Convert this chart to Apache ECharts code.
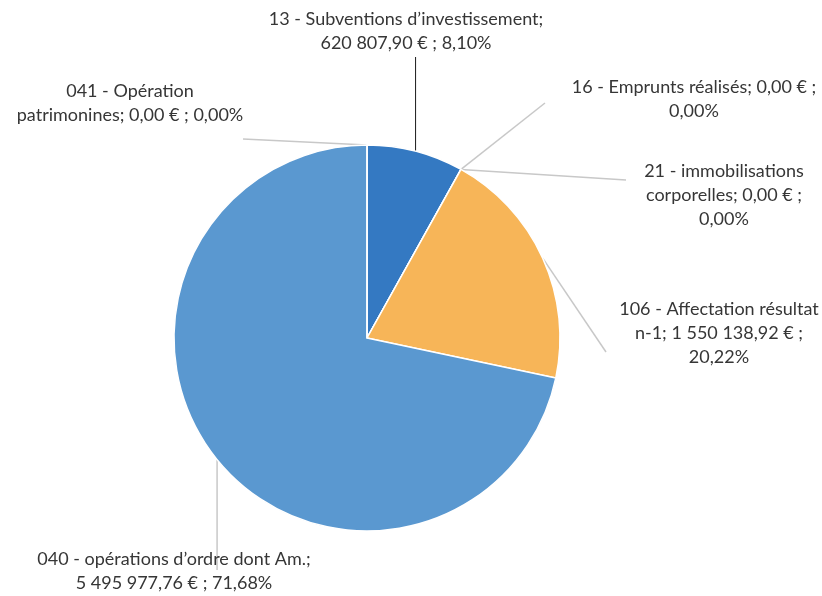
<!DOCTYPE html>
<html>
<head>
<meta charset="utf-8">
<script src="https://cdn.jsdelivr.net/npm/echarts@6/dist/echarts.min.js"></script>
<style>
  html, body { margin: 0; padding: 0; background: #ffffff; }
  #chart { width: 822px; height: 596px; }
</style>
</head>
<body>
<div id="chart"></div>
<script>
// Budget lines (clockwise from 12 o'clock)
const categories = [
  '13 - Subventions d’investissement',
  '16 - Emprunts réalisés',
  '21 - immobilisations corporelles',
  '106 - Affectation résultat n-1',
  '040 - opérations d’ordre dont Am.',
  '041 - Opération patrimonines'
];
const amounts = [620807.90, 0, 0, 1550138.92, 5495977.76, 0];

// Presentation settings
const sliceColors = ['#3479c2', '#5a98d0', '#5a98d0', '#f7b558', '#5a98d0', '#5a98d0'];
const wordsPerLine = [[4], [7], [3, 4], [4, 6], [6], [3]];
const labelSpots = [
  { at: [406, 31],  end: [null, 57], color: '#1a1a1a', width: 1 },
  { at: [694, 99],  end: [545, 103], color: '#c8c8c8', width: 1.5 },
  { at: [724, 195], end: [626, 180], color: '#c8c8c8', width: 1.5 },
  { at: [719, 333], end: [606, 352], color: '#c8c8c8', width: 1.5 },
  { at: [174, 571], end: [null, 570], color: '#c8c8c8', width: 1.5 },
  { at: [130, 103], end: [243, 139], color: '#c8c8c8', width: 1.5 }
];

const total = amounts.reduce((a, b) => a + b, 0);

function frNumber(v) {
  const [int, dec] = v.toFixed(2).split('.');
  return int.replace(/\B(?=(\d{3})+(?!\d))/g, ' ') + ',' + dec;
}
function frPercent(v) {
  return (v / total * 100).toFixed(2).replace('.', ',') + '%';
}
function wrapWords(text, counts) {
  const words = text.split(' ');
  const lines = [];
  let i = 0;
  counts.forEach(n => { lines.push(words.slice(i, i + n).join(' ')); i += n; });
  if (i < words.length) lines.push(words.slice(i).join(' '));
  return lines.join('\n');
}

const pieData = categories.map((name, i) => ({
  name,
  value: amounts[i],
  itemStyle: { color: sliceColors[i] },
  labelLine: { lineStyle: { color: labelSpots[i].color, width: labelSpots[i].width } }
}));

const chart = echarts.init(document.getElementById('chart'), null, { renderer: 'canvas' });

chart.setOption({
  backgroundColor: '#ffffff',
  animation: false,
  series: [{
    type: 'pie',
    center: [367, 338],
    radius: 193,
    startAngle: 90,
    clockwise: true,
    avoidLabelOverlap: false,
    minShowLabelAngle: 0,
    data: pieData,
    itemStyle: { borderColor: '#ffffff', borderWidth: 1.5 },
    label: {
      show: true,
      position: 'outside',
      fontFamily: 'Lato',
      fontSize: 18,
      lineHeight: 24,
      color: '#363636',
      align: 'center',
      formatter: p => wrapWords(
        `${p.name}; ${frNumber(p.value)} € ; ${frPercent(p.value)}`,
        wordsPerLine[p.dataIndex]
      )
    },
    labelLine: { show: true, length: 10, length2: 10, smooth: false },
    labelLayout: params => {
      const spot = labelSpots[params.dataIndex];
      const start = params.labelLinePoints[0];
      const end = [spot.end[0] === null ? start[0] : spot.end[0], spot.end[1]];
      return {
        x: spot.at[0],
        y: spot.at[1],
        align: 'center',
        verticalAlign: 'middle',
        labelLinePoints: [start, end, end]
      };
    },
    emphasis: { disabled: true }
  }]
});
</script>
</body>
</html>
